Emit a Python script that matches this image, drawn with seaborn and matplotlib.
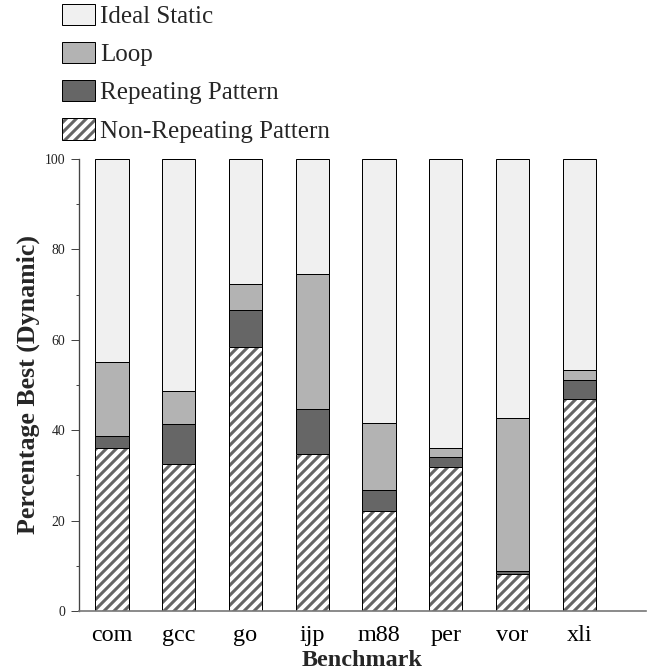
import matplotlib
matplotlib.use("Agg")
import matplotlib.pyplot as plt
import seaborn as sns
import pandas as pd
from matplotlib.patches import Patch
from matplotlib.legend_handler import HandlerTuple
from matplotlib.ticker import MultipleLocator

# ---------------- data ----------------
benchmarks = ["com", "gcc", "go", "ijp", "m88", "per", "vor", "xli"]
non_repeating = [36.0, 32.5, 58.3, 34.7, 22.1, 31.8, 8.1, 47.0]
repeating = [2.8, 8.8, 8.4, 10.1, 4.7, 2.3, 0.8, 4.1]
loop = [16.3, 7.4, 5.6, 29.7, 14.7, 1.9, 33.9, 2.3]
# Ideal Static fills the remainder up to 100 %
series_names = ["Ideal Static", "Loop", "Repeating Pattern", "Non-Repeating Pattern"]
y_ticks = [0, 20, 40, 60, 80, 100]

# ---------------- style ----------------
DPI = 60
sns.set_theme(style="ticks")
plt.rcParams["font.family"] = ["Liberation Serif", "DejaVu Serif"]
plt.rcParams["hatch.linewidth"] = 4.8

c_ideal = "#f0f0f0"
c_loop = "#b3b3b3"
c_rep = "#666666"
HATCH = "//"

df = pd.DataFrame({"bench": benchmarks, "nonrep": non_repeating,
                   "rep": repeating, "loop": loop})
df["cum_rep"] = df["nonrep"] + df["rep"]
df["cum_loop"] = df["cum_rep"] + df["loop"]
df["ideal"] = 100 - df["cum_loop"]
df["total"] = df["cum_loop"] + df["ideal"]

fig = plt.figure(figsize=(647 / DPI, 672 / DPI), dpi=DPI)
ax = fig.add_axes([79 / 647, (672 - 611) / 672, (646 - 79) / 647, 452 / 672])

W = 0.5
LW = 1.2
common = dict(data=df, x="bench", order=benchmarks, ax=ax, width=W,
              saturation=1, errorbar=None)
sns.barplot(y="total", color=c_ideal, edgecolor="black", linewidth=LW, **common)
sns.barplot(y="cum_loop", color=c_loop, edgecolor="black", linewidth=LW, **common)
sns.barplot(y="cum_rep", color=c_rep, edgecolor="black", linewidth=LW, **common)
sns.barplot(y="nonrep", color=c_rep, edgecolor="white", linewidth=0, hatch=HATCH, **common)
sns.barplot(y="nonrep", color="black", fill=False, linewidth=LW, **common)

# ---------------- axes ----------------
ax.set_xlim(-0.494, 8.0)
ax.set_ylim(0, 100)
ax.set_yticks(y_ticks)
ax.yaxis.set_minor_locator(MultipleLocator(10))
for s in ["top", "right"]:
    ax.spines[s].set_visible(False)
ax.spines["left"].set_color("#444444")
ax.spines["bottom"].set_color("#777777")
ax.spines["left"].set_linewidth(1.6)
ax.spines["bottom"].set_linewidth(2.0)
ax.tick_params(axis="y", which="major", length=9.6, width=1.2, color="#444444",
               labelsize=16.5, pad=7, labelcolor="#222222")
ax.tick_params(axis="y", which="minor", length=3.6, width=1.2, color="#444444")
ax.tick_params(axis="x", length=0, labelsize=29, pad=17, labelcolor="black")

ax.set_xlabel("Benchmark", fontsize=29, fontweight="bold", labelpad=4)
ax.set_ylabel("Percentage Best (Dynamic)", fontsize=31, fontweight="bold", labelpad=5)

# ---------------- legend ----------------
handles = [
    Patch(facecolor=c_ideal, edgecolor="black", linewidth=LW),
    Patch(facecolor=c_loop, edgecolor="black", linewidth=LW),
    Patch(facecolor=c_rep, edgecolor="black", linewidth=LW),
    (Patch(facecolor=c_rep, edgecolor="white", hatch=HATCH, linewidth=0),
     Patch(facecolor="none", edgecolor="black", linewidth=LW)),
]
fig.legend(handles, series_names, loc="upper left",
           bbox_to_anchor=(62 / 647, 1 - 4 / 672), frameon=False,
           fontsize=30, handlelength=1.3, handleheight=0.92,
           handletextpad=0.24, labelspacing=0.56, borderpad=0, borderaxespad=0,
           handler_map={tuple: HandlerTuple(ndivide=1, pad=0)})

fig.savefig("out.png", dpi=DPI)
